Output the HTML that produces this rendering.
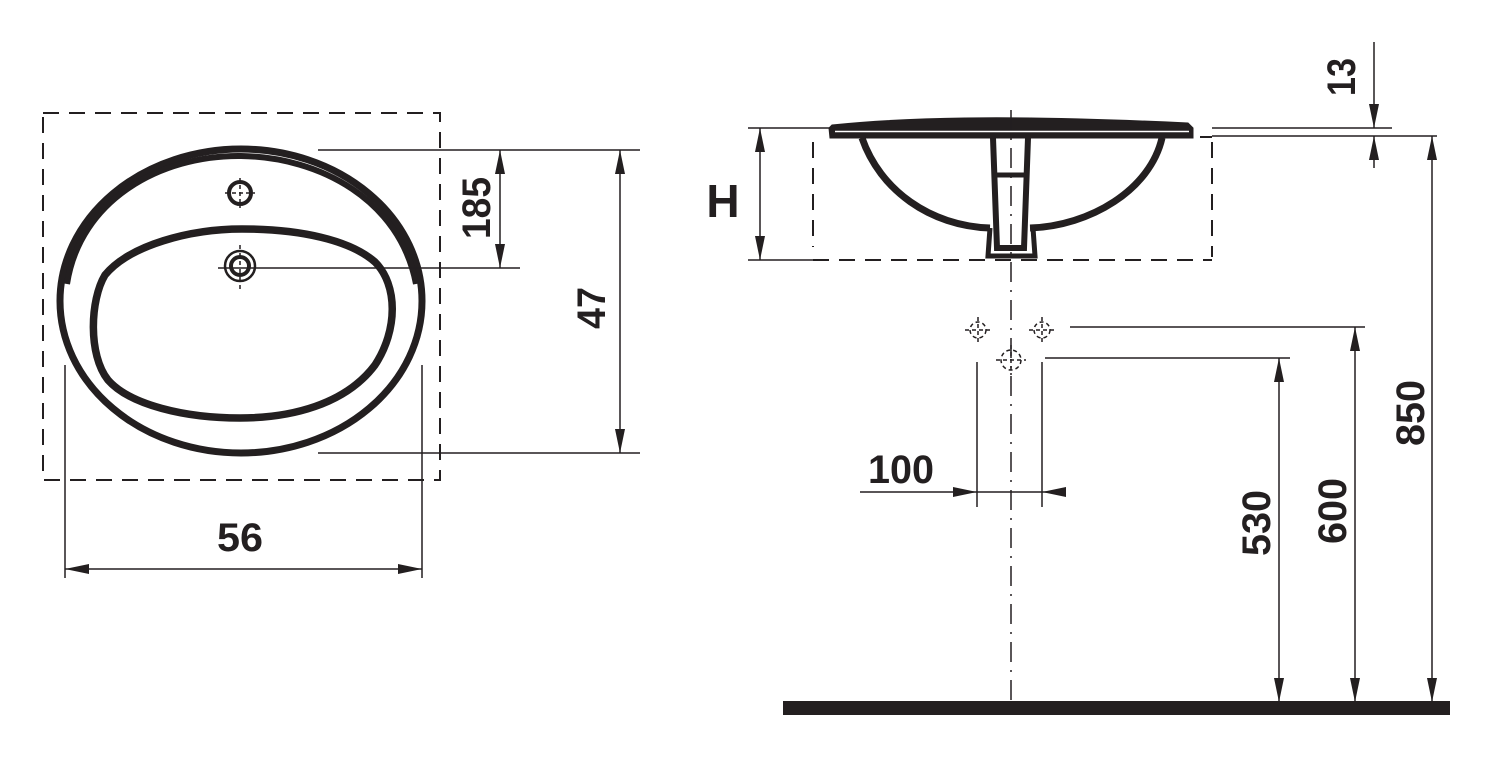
<!DOCTYPE html>
<html><head><meta charset="utf-8"><style>
html,body{margin:0;padding:0;background:#fff}
svg{display:block}
text{font-family:"Liberation Sans Narrow","Liberation Sans",sans-serif;font-weight:bold;fill:#231f20}
</style></head><body>
<svg width="1492" height="758" viewBox="0 0 1492 758" xmlns="http://www.w3.org/2000/svg">
<defs>
<marker id="b" viewBox="0 0 24 10" refX="24" refY="5" markerWidth="24" markerHeight="12" markerUnits="userSpaceOnUse" orient="auto-start-reverse"><path d="M0,0 L24,5 L0,10z" fill="#231f20"/></marker>
</defs>
<g stroke="#231f20" fill="none">
<rect x="43" y="113" width="397" height="367" stroke-width="2" stroke-dasharray="16,10"/>
<ellipse cx="241" cy="301" rx="181" ry="152" stroke-width="7"/>
<path d="M67,284 C80,200 160,155 241,156 C320,157 400,200 416,284" stroke-width="6"/>
<path d="M242,229 C300,229 350,240 375,262 C398,285 398,330 375,365 C345,405 290,418 240,418 C185,418 130,405 108,380 C88,355 90,300 105,275 C130,245 190,229 242,229z" stroke-width="7.5"/>
<circle cx="240" cy="193" r="11" stroke-width="4"/>
<path d="M240,178v30M225,193h30" stroke-width="1.5" stroke-dasharray="4,3"/>
<circle cx="240" cy="266" r="15" stroke-width="2.5"/>
<circle cx="240" cy="266" r="9" stroke-width="4"/>
<path d="M240,245v45" stroke-width="1.5" stroke-dasharray="4,4"/>
<path d="M218,268h302" stroke-width="1.5"/>
<path d="M318,150h322M318,453h322" stroke-width="1.5"/>
<path d="M500,150v118" stroke-width="1.5" marker-start="url(#b)" marker-end="url(#b)"/>
<path d="M620,150v303" stroke-width="1.5" marker-start="url(#b)" marker-end="url(#b)"/>
<path d="M65,365v213M422,365v213" stroke-width="1.5"/>
<path d="M65,569h357" stroke-width="1.5" marker-start="url(#b)" marker-end="url(#b)"/>
<path d="M832,125 C900,118 1000,114 1188,123 L1193,128 L1193,138 L830,138 L829,128 Z" fill="#231f20" stroke-width="1"/>
<path d="M835,131.5 L1189,131.5" stroke="#fff" stroke-width="1.5"/>
<path d="M862,138 C880,190 930,226 990,228 M1030,228 C1090,226 1150,190 1162,138" stroke-width="7"/>
<path d="M993,138 L997,248 L1024,248 L1028,138" stroke-width="6"/>
<path d="M996,175h30" stroke-width="5"/>
<path d="M990,228 L988,256 L1035,256 L1033,228" stroke-width="5"/>
<path d="M813,142v105M1212,142v115M813,260H1212M1212,137h-12" stroke-width="2" stroke-dasharray="16,10"/>
<path d="M748,128h82M748,260h70" stroke-width="1.5"/>
<path d="M760,128v132" stroke-width="1.5" marker-start="url(#b)" marker-end="url(#b)"/>
<path d="M1011,110V715" stroke-width="1.5" stroke-dasharray="20,8,2,8"/>
<path d="M1212,128h180M1212,136h225" stroke-width="1.5"/>
<path d="M1374,42v86" stroke-width="1.5" marker-end="url(#b)"/>
<path d="M1374,168v-32" stroke-width="1.5" marker-end="url(#b)"/>
<path d="M1432,136v566" stroke-width="1.5" marker-start="url(#b)" marker-end="url(#b)"/>
<path d="M1070,327h295M1045,358h245" stroke-width="1.5"/>
<path d="M1355,327v375" stroke-width="1.5" marker-start="url(#b)" marker-end="url(#b)"/>
<path d="M1279,358v344" stroke-width="1.5" marker-start="url(#b)" marker-end="url(#b)"/>
<path d="M977,362v145M1042,362v145" stroke-width="1.5"/>
<path d="M860,492h117" stroke-width="1.5" marker-end="url(#b)"/>
<path d="M1066,492h-24" stroke-width="1.5" marker-end="url(#b)"/>
<path d="M977,492h65" stroke-width="1.5"/>
<g stroke-width="1.5" stroke-dasharray="4,3">
<circle cx="978" cy="330" r="8"/><circle cx="1042" cy="330" r="8"/><circle cx="1011" cy="360" r="10"/>
<path d="M965,330h26M978,317v26M1029,330h26M1042,317v26M996,360h30M1011,345v30"/>
</g>
</g>
<rect x="783" y="701" width="667" height="14" fill="#231f20"/>
<text x="240" y="551" font-size="40" text-anchor="middle" textLength="46" lengthAdjust="spacingAndGlyphs">56</text>
<text transform="translate(490,208) rotate(-90)" font-size="40" text-anchor="middle" textLength="62" lengthAdjust="spacingAndGlyphs">185</text>
<text transform="translate(605,308) rotate(-90)" font-size="40" text-anchor="middle" textLength="42" lengthAdjust="spacingAndGlyphs">47</text>
<text x="723" y="217" font-size="46" text-anchor="middle">H</text>
<text x="901" y="483" font-size="40" text-anchor="middle" textLength="66" lengthAdjust="spacingAndGlyphs">100</text>
<text transform="translate(1355,77) rotate(-90)" font-size="40" text-anchor="middle" textLength="38" lengthAdjust="spacingAndGlyphs">13</text>
<text transform="translate(1270,523) rotate(-90)" font-size="40" text-anchor="middle" textLength="66" lengthAdjust="spacingAndGlyphs">530</text>
<text transform="translate(1346,511) rotate(-90)" font-size="40" text-anchor="middle" textLength="66" lengthAdjust="spacingAndGlyphs">600</text>
<text transform="translate(1424,413) rotate(-90)" font-size="40" text-anchor="middle" textLength="66" lengthAdjust="spacingAndGlyphs">850</text>
</svg>
</body></html>
